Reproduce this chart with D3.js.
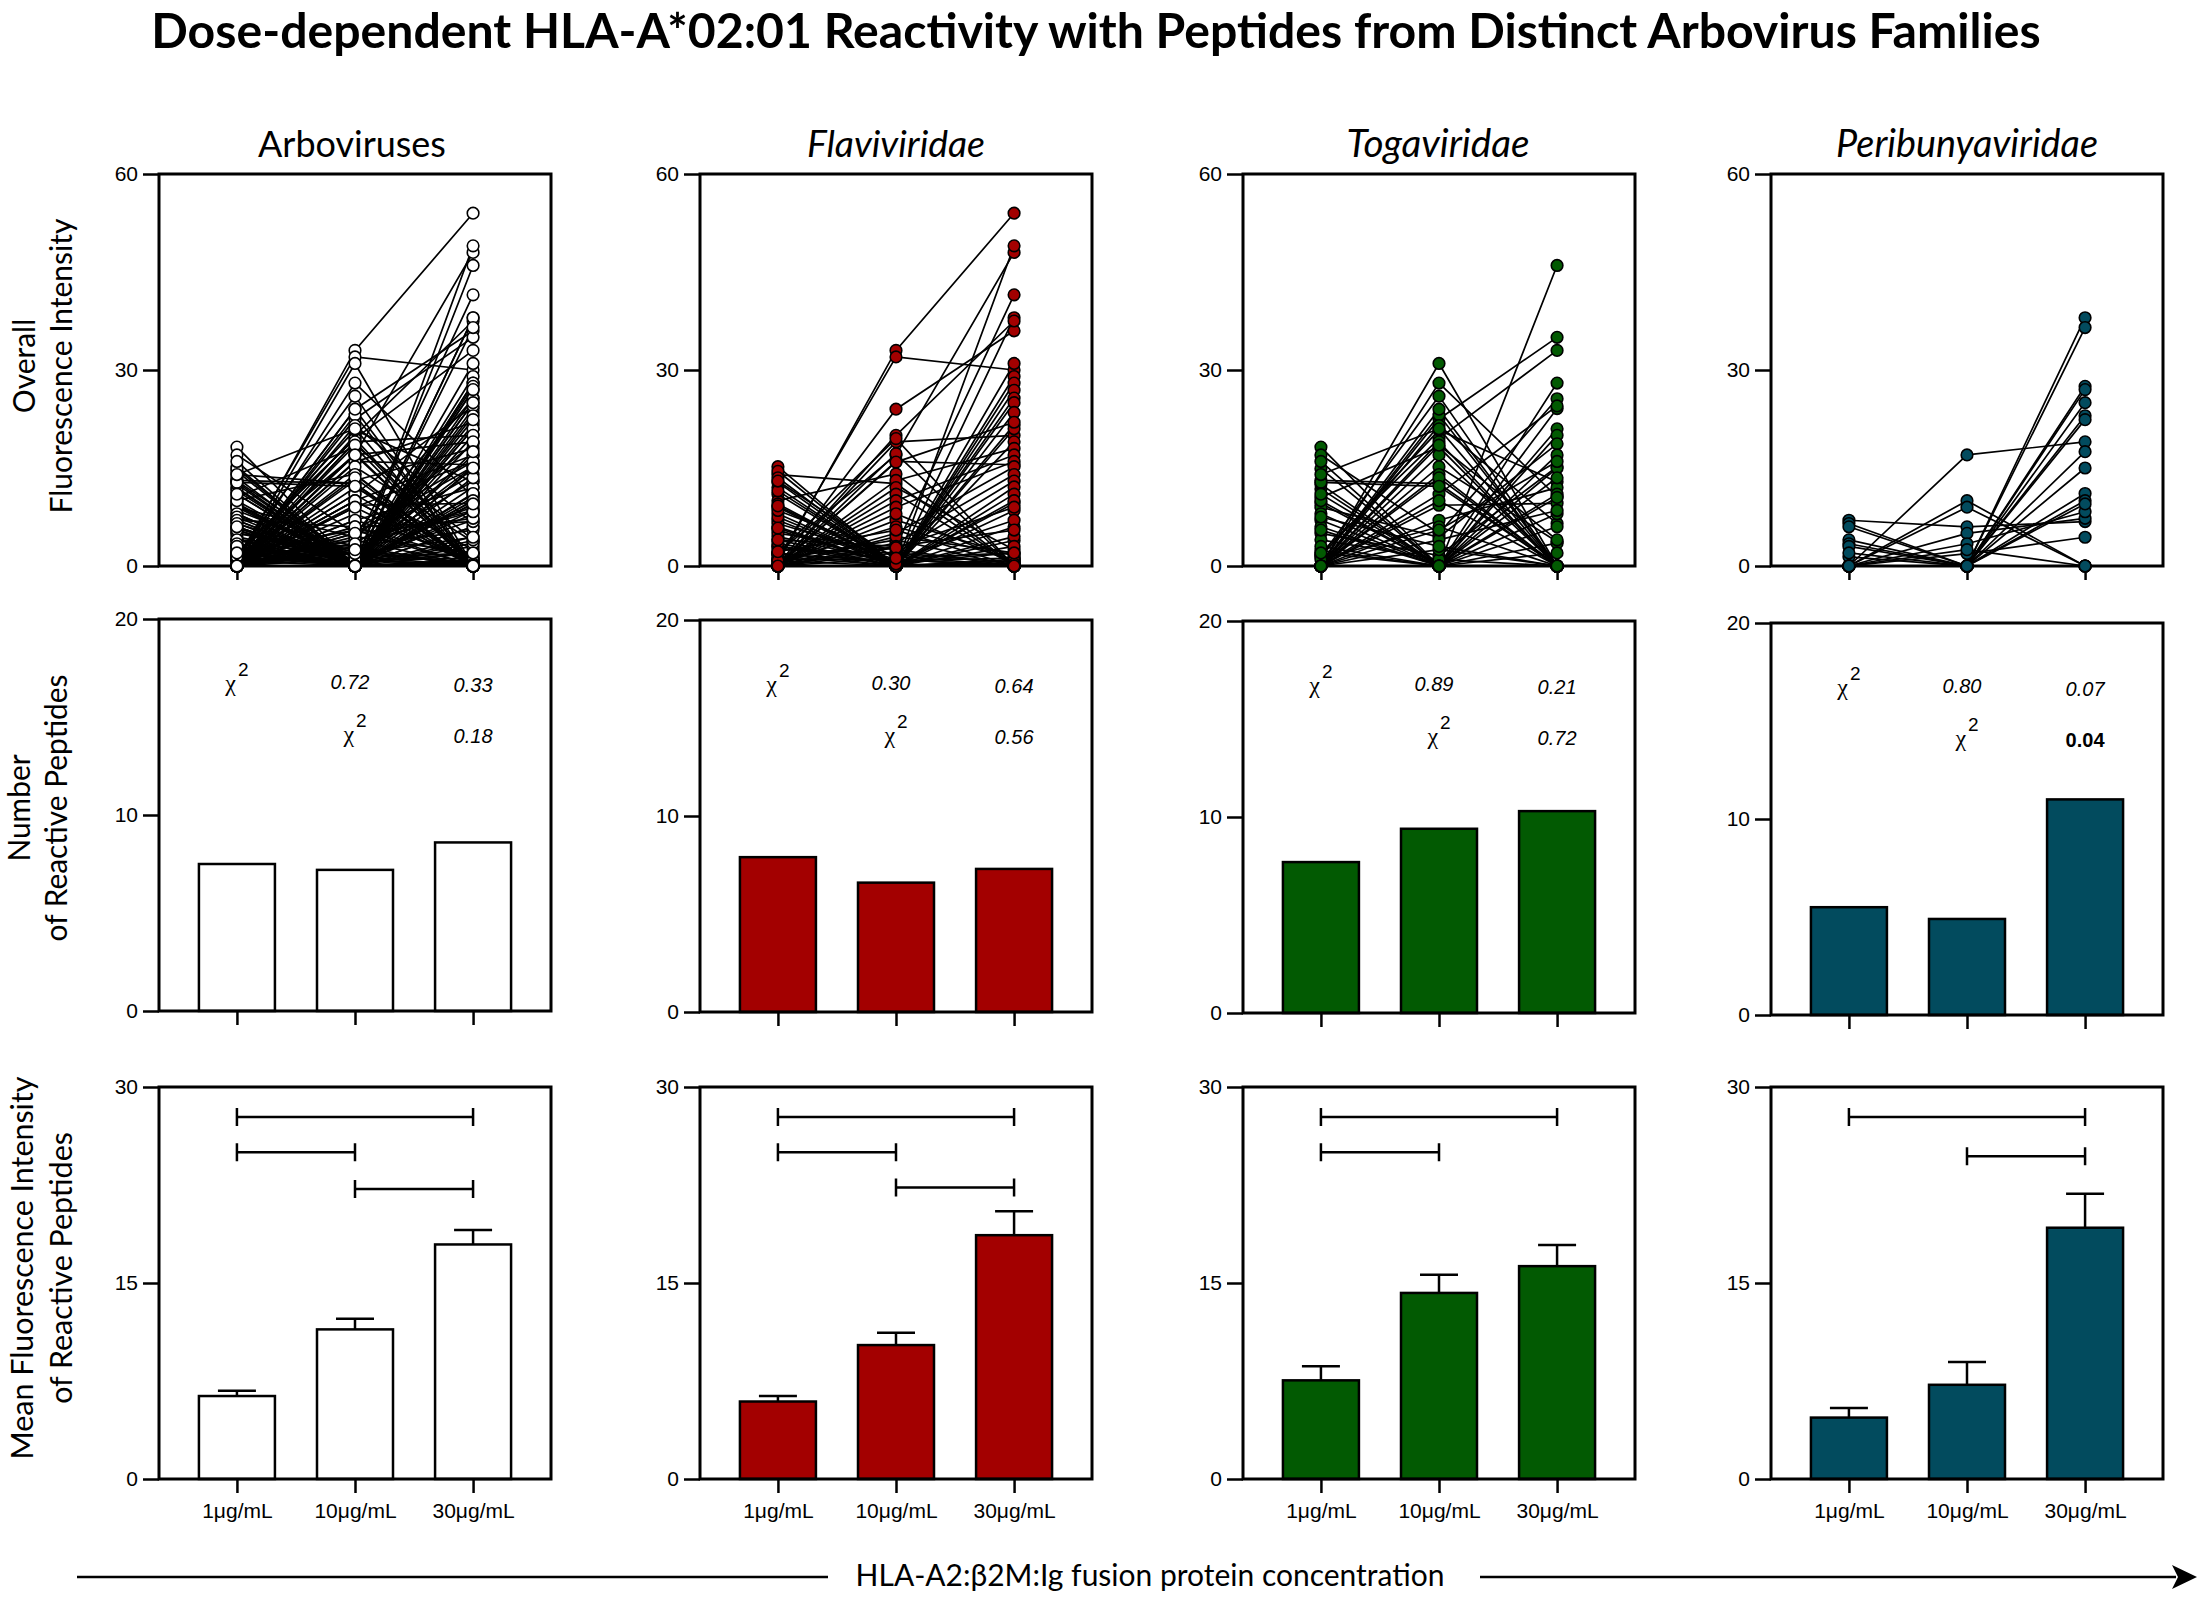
<!DOCTYPE html>
<html><head><meta charset="utf-8">
<script src="https://cdn.jsdelivr.net/npm/d3@7"></script>
<style>body{margin:0;background:#fff}</style>
</head><body>
<svg id="c" width="2200" height="1601" xmlns="http://www.w3.org/2000/svg"></svg>
<script>
// ---------- DATA ----------
const chartTitle = "Dose-dependent HLA-A*02:01 Reactivity with Peptides from Distinct Arbovirus Families";
const concentrations = ["1\u03BCg/mL", "10\u03BCg/mL", "30\u03BCg/mL"];
const families = ["Arboviruses", "Flaviviridae", "Togaviridae", "Peribunyaviridae"];
const familyItalic = [false, true, true, true];
const familyColors = ["#ffffff", "#a30000", "#025a02", "#024b5e"];

// Overall fluorescence intensity per peptide at [1, 10, 30] ug/mL
const flaviPeptides = [
  [0.5,33,54],[1,32,30],[0,24,36],[2,17,48],[0,0,49],[0,3,41.5],[0,0,38],[0,20,37.5],
  [14,12.6,0],[0,19,20],[0,16,15.5],[15.2,0,31],[14.5,0,29],[13.5,0,28],[12,0,26.9],
  [11,0,25.7],[10,14.1,0],[9.5,0,25],[8,0,23.5],[7,0,21.6],[5.5,0,21],[4,0,19],
  [2,19.5,0],[0,13.1,18],[0,12,2.5],[0,11,0],[0,10,17],[0,9,16],[0,7,1.5],[0,5,15.2],
  [0,3.5,14],[0,2,13],[0,0,12.1],[0,0,11],[0,0,9.6],[0,0,8.5],[0,0,6],[0,0,3.9],
  [12.8,0,0],[6,0,0],[3,0,0],[0,17.2,0],[0,15.9,22],[9,0,10],[1.5,0,0],
  [3,1,0],[4.5,0.5,2],[2.5,2,0.5],[1,4,0],[6.5,1,0],[0.5,6,1],[3.5,0,1],[5,2.5,0],
  [7.5,0,0.5],[2,0,4.5],[1,1,7],[0,4.5,2],[8.5,1.5,0],[0,8,0.5],[4,3,5.5],[1.8,0.8,1.2],
  [0,2.8,9],[5.8,0,3],[11.5,0,0.8],[13,1,0],[0.8,0,0.3],[2.2,5.5,0],[9.2,0.3,0],[0,1.2,2]
];
const togaPeptides = [
  [0,0,46],[0,22.5,35],[2,19.5,33],[0,31,0],[0,28,10.6],[1.5,26,0],[18.2,0,28],
  [17,5,25.6],[14.9,0,24.1],[13.1,12.6,0],[11.8,0,21],[10.5,18.2,0],[9.6,0,20],
  [9,4.4,18.7],[7,0,17],[5,1.6,15.2],[2.4,0,0],[1.5,20.8,12.9],[0,23.1,0],[0,21.5,6.5],
  [0,17,0],[0,15.2,3.7],[0,14,0],[0,9.3,9.6],[0,7,12],[0,0,11],[0,0,8],[0,19,0],
  [12.5,0,15],[0,11,24.5],[0,0,3.5],[16,0,0],[0,10,0],[8,0,0],[6,0,13.5],[0,13.5,0],
  [12.8,12.2,0],[4,1,0],[3,0,2],[1,6,0],[0,4,8.5],[5.5,0,0],[10,0,0],[0,2.5,0],
  [2,0,10.5],[7.5,3,0],[0,5.5,16],[11,0,0],[0,0,6],[14,21,0],[0,24,0],[0,18.5,4]
];
const peribunyaPeptides = [
  [0,17,19],[0,10,0],[0,9,0],[7,6,6.8],[6.5,0,38],[4,0,36.5],[3.4,0,27.5],[1.4,0,27],
  [0,5,7.3],[0,3.4,8.3],[0,1.9,4.4],[0,0,25],[0,0,23],[0,0,22.4],[0,0,17.5],[0,0,15],
  [0,0,11.1],[0,0,10],[6,0,9.5],[3,0,0],[2,0,0],[0,2.5,0]
];
const arboPeptides = flaviPeptides.concat(togaPeptides, peribunyaPeptides);

// Number of reactive peptides
const reactiveCount = [
  [7.5, 7.2, 8.6],
  [7.9, 6.6, 7.3],
  [7.7, 9.4, 10.3],
  [5.5, 4.9, 11.0]
];
// chi-square p values: first row (vs 1ug) for 10 and 30; second row (10 vs 30)
const chiRow1 = [["0.72","0.33"],["0.30","0.64"],["0.89","0.21"],["0.80","0.07"]];
const chiRow2 = ["0.18","0.56","0.72","0.04"];
const chiRow2Bold = [false,false,false,true];

// Mean fluorescence intensity of reactive peptides (mean, upper error)
const meanIntensity = [
  [6.35, 11.45, 17.95],
  [5.93, 10.25, 18.66],
  [7.55, 14.24, 16.29],
  [4.70, 7.21, 19.23]
];
const meanUpper = [
  [6.76, 12.27, 19.06],
  [6.36, 11.20, 20.50],
  [8.63, 15.64, 17.90],
  [5.44, 8.96, 21.83]
];
// significance brackets: [from index, to index, y value]
const sigBrackets = [
  [[0,2,27.7],[0,1,25.0],[1,2,22.2]],
  [[0,2,27.7],[0,1,25.0],[1,2,22.3]],
  [[0,2,27.7],[0,1,25.0]],
  [[0,2,27.7],[1,2,24.7]]
];

const overallTicks = [0, 30, 60];
const countTicks = [0, 10, 20];
const meanTicks = [0, 15, 30];
const rowLabels = [["Overall","Fluorescence Intensity"],["Number","of Reactive Peptides"],["Mean Fluorescence Intensity","of Reactive Peptides"]];
const bottomLabel = "HLA-A2:\u03B22M:Ig fusion protein concentration";

// ---------- LAYOUT ----------
const svg = d3.select("#c");
const W = 392;
const colLeft = [159, 700, 1243, 1771];
const row1Top = 174, row2Top = [619, 620, 621, 623], row3Top = 1087;
const dotData = [arboPeptides, flaviPeptides, togaPeptides, peribunyaPeptides];
const numFont = "'Liberation Sans', Arial, sans-serif";
const labFont = "Lato, 'Open Sans', sans-serif";

function fit(sel, target) {
  const w = sel.node().getComputedTextLength();
  const fs = parseFloat(sel.attr("font-size"));
  sel.attr("font-size", fs * target / w);
  return fs * target / w;
}

function frame(g, left, top) {
  g.append("rect").attr("x", left).attr("y", top).attr("width", W).attr("height", W)
    .attr("fill", "none").attr("stroke", "#000").attr("stroke-width", 3);
}
function yAxis(g, y, ticks, left) {
  const ax = g.append("g").attr("transform", `translate(${left},0)`)
    .call(d3.axisLeft(y).tickValues(ticks).tickSize(16).tickSizeOuter(0).tickPadding(5).tickFormat(d3.format("d")));
  ax.select(".domain").remove();
  ax.selectAll("line").attr("stroke-width", 2.5);
  ax.selectAll("text").attr("font-family", numFont).attr("font-size", 21).attr("fill", "#000");
}
function xAxis(g, x, bottom, labels) {
  const ax = g.append("g").attr("transform", `translate(0,${bottom})`)
    .call(d3.axisBottom(x).tickSize(14).tickSizeOuter(0).tickPadding(10).tickFormat(labels ? (d => d) : () => ""));
  ax.select(".domain").remove();
  ax.selectAll("line").attr("stroke-width", 2.5);
  ax.selectAll("text").attr("font-family", numFont).attr("font-size", 21).attr("fill", "#000");
}

// Title
const t = svg.append("text").attr("x", 1096).attr("y", 48).attr("text-anchor", "middle")
  .attr("font-family", labFont).attr("font-weight", 700).attr("font-size", 44).text(chartTitle);
fit(t, 1890);

const titleWidths = [188, 178, 183, 262];
const titleCenters = [352, 896, 1438, 1967];

families.forEach((fam, c) => {
  const left = colLeft[c];
  const x = d3.scalePoint().domain(concentrations).range([left, left + W]).padding(0.66);
  const fill = familyColors[c];

  // column title
  const ct = svg.append("text").attr("x", titleCenters[c]).attr("y", 157).attr("text-anchor", "middle")
    .attr("font-family", labFont).attr("font-size", 30).attr("font-style", familyItalic[c] ? "italic" : "normal")
    .text(fam);
  fit(ct, titleWidths[c]);

  // ---- Row 1: paired dot plot ----
  const g1 = svg.append("g");
  const y1 = d3.scaleLinear().domain([0, 60]).range([row1Top + W, row1Top]);
  frame(g1, left, row1Top);
  yAxis(g1, y1, overallTicks, left);
  xAxis(g1, x, row1Top + W, false);
  const line = d3.line().x((d, i) => x(concentrations[i])).y(d => y1(d));
  g1.append("g").selectAll("path").data(dotData[c]).join("path")
    .attr("d", line).attr("fill", "none").attr("stroke", "#000").attr("stroke-width", 1.7);
  const pts = dotData[c].flatMap(p => p.map((v, i) => ({ v, i })));
  g1.append("g").selectAll("circle").data(pts).join("circle")
    .attr("cx", d => x(concentrations[d.i])).attr("cy", d => y1(d.v)).attr("r", 5.8)
    .attr("fill", fill).attr("stroke", "#000").attr("stroke-width", 1.6);

  // ---- Row 2: number of reactive peptides ----
  const top2 = row2Top[c];
  const g2 = svg.append("g");
  const y2 = d3.scaleLinear().domain([0, 20]).range([top2 + W, top2]);
  const bw = 76;
  g2.selectAll("rect.bar").data(reactiveCount[c]).join("rect").attr("class", "bar")
    .attr("x", (d, i) => x(concentrations[i]) - bw / 2).attr("y", d => y2(d))
    .attr("width", bw).attr("height", d => y2(0) - y2(d))
    .attr("fill", fill).attr("stroke", "#000").attr("stroke-width", 2.5);
  frame(g2, left, top2);
  yAxis(g2, y2, countTicks, left);
  xAxis(g2, x, top2 + W, false);
  // chi-square annotations
  function chi(cx, yv) {
    const tx = g2.append("text").attr("x", cx).attr("y", y2(yv)).attr("text-anchor", "middle")
      .attr("font-family", "'Liberation Serif', serif").attr("font-size", 24);
    tx.append("tspan").text("\u03C7");
    tx.append("tspan").attr("dy", -15).attr("dx", 2).attr("font-family", numFont).attr("font-size", 19).text("2");
  }
  chi(x(concentrations[0]), 16.35);
  chi(x(concentrations[1]), 13.7);
  chiRow1[c].forEach((s, k) => {
    g2.append("text").attr("x", x(concentrations[k + 1]) - (k === 0 ? 5 : 0)).attr("y", y2(k === 0 ? 16.45 : 16.28))
      .attr("text-anchor", "middle").attr("font-family", numFont).attr("font-style", "italic")
      .attr("font-size", 20).text(s);
  });
  g2.append("text").attr("x", x(concentrations[2])).attr("y", y2(13.66))
    .attr("text-anchor", "middle").attr("font-family", numFont)
    .attr("font-style", chiRow2Bold[c] ? "normal" : "italic").attr("font-weight", chiRow2Bold[c] ? 700 : 400)
    .attr("font-size", 20).text(chiRow2[c]);

  // ---- Row 3: mean fluorescence intensity ----
  const g3 = svg.append("g");
  const y3 = d3.scaleLinear().domain([0, 30]).range([row3Top + W, row3Top]);
  g3.selectAll("line.err").data(meanUpper[c]).join("line").attr("class", "err")
    .attr("x1", (d, i) => x(concentrations[i])).attr("x2", (d, i) => x(concentrations[i]))
    .attr("y1", (d, i) => y3(meanIntensity[c][i])).attr("y2", d => y3(d))
    .attr("stroke", "#000").attr("stroke-width", 2.5);
  g3.selectAll("line.cap").data(meanUpper[c]).join("line").attr("class", "cap")
    .attr("x1", (d, i) => x(concentrations[i]) - 19).attr("x2", (d, i) => x(concentrations[i]) + 19)
    .attr("y1", d => y3(d)).attr("y2", d => y3(d))
    .attr("stroke", "#000").attr("stroke-width", 2.5);
  g3.selectAll("rect.bar").data(meanIntensity[c]).join("rect").attr("class", "bar")
    .attr("x", (d, i) => x(concentrations[i]) - bw / 2).attr("y", d => y3(d))
    .attr("width", bw).attr("height", d => y3(0) - y3(d))
    .attr("fill", fill).attr("stroke", "#000").attr("stroke-width", 2.5);
  frame(g3, left, row3Top);
  yAxis(g3, y3, meanTicks, left);
  xAxis(g3, x, row3Top + W, true);
  sigBrackets[c].forEach(([a, b, v]) => {
    const xa = x(concentrations[a]), xb = x(concentrations[b]), yy = y3(v);
    g3.append("path").attr("d", `M${xa},${yy - 9}V${yy + 9}M${xa},${yy}H${xb}M${xb},${yy - 9}V${yy + 9}`)
      .attr("fill", "none").attr("stroke", "#000").attr("stroke-width", 2.5);
  });
});

// Row labels (rotated)
const rowLabelPos = [
  { cy: 366, xs: [24, 61], len: 295, ref: 1 },
  { cy: 808, xs: [19, 56], len: 267, ref: 1 },
  { cy: 1268, xs: [22, 61], len: 383, ref: 0 }
];
rowLabels.forEach((lines, r) => {
  const p = rowLabelPos[r];
  const texts = lines.map((s, k) => svg.append("text")
    .attr("transform", `translate(${p.xs[k]},${p.cy}) rotate(-90)`)
    .attr("text-anchor", "middle").attr("dy", "0.36em")
    .attr("font-family", labFont).attr("font-size", 26).text(s));
  const fs = fit(texts[p.ref], p.len);
  texts.forEach(tx => tx.attr("font-size", fs));
});

// Bottom arrow and label
const ay = 1577;
svg.append("line").attr("x1", 77).attr("x2", 828).attr("y1", ay).attr("y2", ay).attr("stroke", "#000").attr("stroke-width", 2.5);
svg.append("line").attr("x1", 1480).attr("x2", 2176).attr("y1", ay).attr("y2", ay).attr("stroke", "#000").attr("stroke-width", 2.5);
svg.append("path").attr("d", `M2172,${ay - 12}L2197,${ay}L2172,${ay + 12}L2178,${ay}Z`).attr("fill", "#000");
const bl = svg.append("text").attr("x", 1150).attr("y", 1586).attr("text-anchor", "middle")
  .attr("font-family", labFont).attr("font-size", 26).text(bottomLabel);
fit(bl, 589);
</script>
</body></html>
